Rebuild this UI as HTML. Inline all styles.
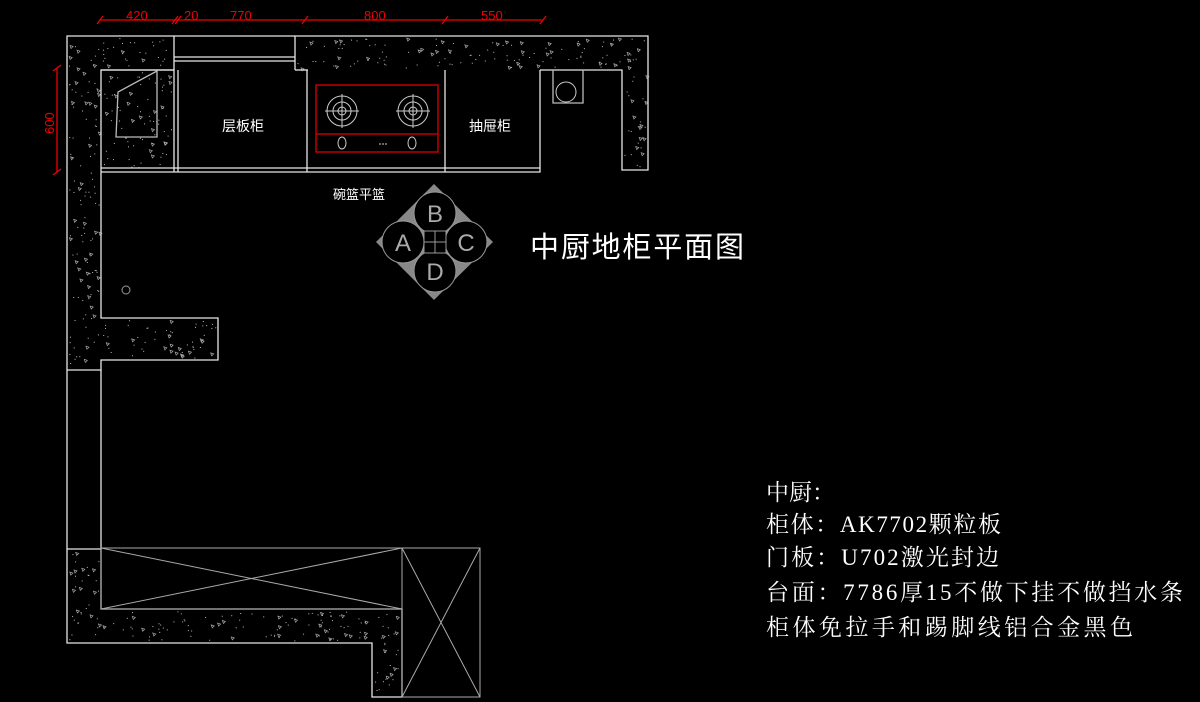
<!DOCTYPE html>
<html><head><meta charset="utf-8"><style>
html,body{margin:0;padding:0;background:#000;}
svg{display:block;}
text{font-family:"Liberation Sans","Noto Sans CJK SC",sans-serif;}
</style></head><body>
<svg id="s" width="1200" height="702" viewBox="0 0 1200 702" xmlns="http://www.w3.org/2000/svg">
<rect width="1200" height="702" fill="#000"/>
<g id="tex"></g>
<g fill="none" stroke="#e6e6e6" stroke-width="1.3">
<path d="M67,370 V36 H648 V170 H622 V70 H540"/>
<path d="M295,70 H308"/>
<path d="M174,70 H101 V318 H218 V360 H101 V370 H67"/>
<path d="M174,36 V70 M295,36 V70 M174,57 H295 M174,61 H295" />
<path d="M101,70 H174 V172 M101,172 H540 V70 M101,168 H540 M178,70 V172 M307,70 V172 M445,70 V172"/>
<path d="M116,137 L157,137 L157,71 L118,92 Z" stroke="#bbb"/>
<path d="M553,70 V103 H583 V70" stroke="#bbb"/>
<path d="M67,370 V549 H101 V370"/>
<path d="M67,549 V643 H372 V697 H402 V609 H101 V549"/>
</g>
<circle cx="566" cy="92" r="10" fill="none" stroke="#ccc"/>
<circle cx="126" cy="290" r="4" fill="none" stroke="#999"/>
<g fill="none" stroke="#aaa" stroke-width="1">
<rect x="101" y="548" width="301" height="61"/>
<path d="M101,548 L402,609 M101,609 L402,548"/>
<rect x="402" y="548" width="78" height="149"/>
<path d="M402,548 L480,697 M480,548 L402,697"/>
</g>
<g fill="none" stroke="#c00000" stroke-width="1.5">
<rect x="316" y="85" width="122" height="67"/>
<line x1="316" y1="134" x2="438" y2="134"/>
</g>
<g fill="none" stroke="#ccc" stroke-width="1">
<circle cx="342" cy="111" r="15"/><circle cx="342" cy="111" r="9"/><circle cx="342" cy="111" r="4"/>
<path d="M325,111 H359 M342,94 V128"/>
<circle cx="413" cy="111" r="15"/><circle cx="413" cy="111" r="9"/><circle cx="413" cy="111" r="4"/>
<path d="M396,111 H430 M413,94 V128"/>
<ellipse cx="342" cy="143" rx="4" ry="6"/><ellipse cx="412" cy="143" rx="4" ry="6"/>
<path d="M379,144 h8" stroke-dasharray="2 1"/>
</g>
<g stroke="#e00" stroke-width="1.3" fill="none">
<path d="M100,20 H543 M57,68 V172"/>
<path d="M97,24 l6,-8 M172,24 l6,-8 M175,24 l6,-8 M302,24 l6,-8 M442,24 l6,-8 M540,24 l6,-8 M53,71 l8,-6 M53,175 l8,-6"/>
</g>
<g fill="#e00" font-size="13">
<text x="126" y="20">420</text><text x="184" y="20">20</text><text x="230" y="20">770</text>
<text x="364" y="20">800</text><text x="481" y="20">550</text>
<text transform="translate(54,134) rotate(-90)">600</text>
</g>
<g fill="#fff" font-size="14">
<text x="222" y="131">层板柜</text><text x="469" y="131">抽屉柜</text>
<text x="333" y="199" font-size="13">碗篮平篮</text>
</g>
<polygon points="434,184 493,242 434,300 376,242" fill="#888"/>
<g fill="#000" stroke="#999" stroke-width="1">
<circle cx="435" cy="213" r="21"/><circle cx="403" cy="242" r="21"/>
<circle cx="466" cy="242" r="21"/><circle cx="435" cy="271" r="21"/>
<rect x="424" y="231" width="22" height="22"/>
<path d="M435,231 V253 M424,242 H446"/>
</g>
<g fill="#aaa" font-size="24" text-anchor="middle">
<text x="435" y="222">B</text><text x="403" y="251">A</text><text x="466" y="251">C</text><text x="435" y="280">D</text>
</g>
<text x="530" y="257" fill="#fff" font-size="29" textLength="214">中厨地柜平面图</text>
<g fill="#fff" font-size="23">
<text x="766" y="500" style="font-family:'Liberation Serif','Noto Serif CJK SC',serif">中厨：</text>
<text x="766" y="532" textLength="235" style="font-family:'Liberation Serif','Noto Serif CJK SC',serif">柜体：AK7702颗粒板</text>
<text x="766" y="565" textLength="233" style="font-family:'Liberation Serif','Noto Serif CJK SC',serif">门板：U702激光封边</text>
<text x="766" y="600" textLength="417" style="font-family:'Liberation Serif','Noto Serif CJK SC',serif">台面：7786厚15不做下挂不做挡水条</text>
<text x="766" y="635" textLength="367" style="font-family:'Liberation Serif','Noto Serif CJK SC',serif">柜体免拉手和踢脚线铝合金黑色</text>
</g>
</svg>
<script>
(function(){
var g=document.getElementById('tex');var ns='http://www.w3.org/2000/svg';
var regions=[[67,36,107,34],[295,36,353,34],[622,70,26,100],[67,70,34,300],[101,70,73,100],[101,318,117,42],[67,549,34,94],[101,609,271,34],[372,609,30,88]];
var seed=7;function r(){seed=(seed*16807)%2147483647;return seed/2147483647;}
regions.forEach(function(a){var n=Math.floor(a[2]*a[3]/90);
for(var i=0;i<n;i++){var x=a[0]+2+r()*(a[2]-4),y=a[1]+2+r()*(a[3]-4);
var e;if(r()<0.25){e=document.createElementNS(ns,'path');e.setAttribute('d','M'+x+','+y+' l3,1 l-2,2 z');e.setAttribute('fill','none');e.setAttribute('stroke','#aaa');e.setAttribute('stroke-width','0.7');}
else{e=document.createElementNS(ns,'rect');e.setAttribute('x',x);e.setAttribute('y',y);e.setAttribute('width',1);e.setAttribute('height',1);e.setAttribute('fill','#bbb');}
g.appendChild(e);}});
})();
</script>
</body></html>
